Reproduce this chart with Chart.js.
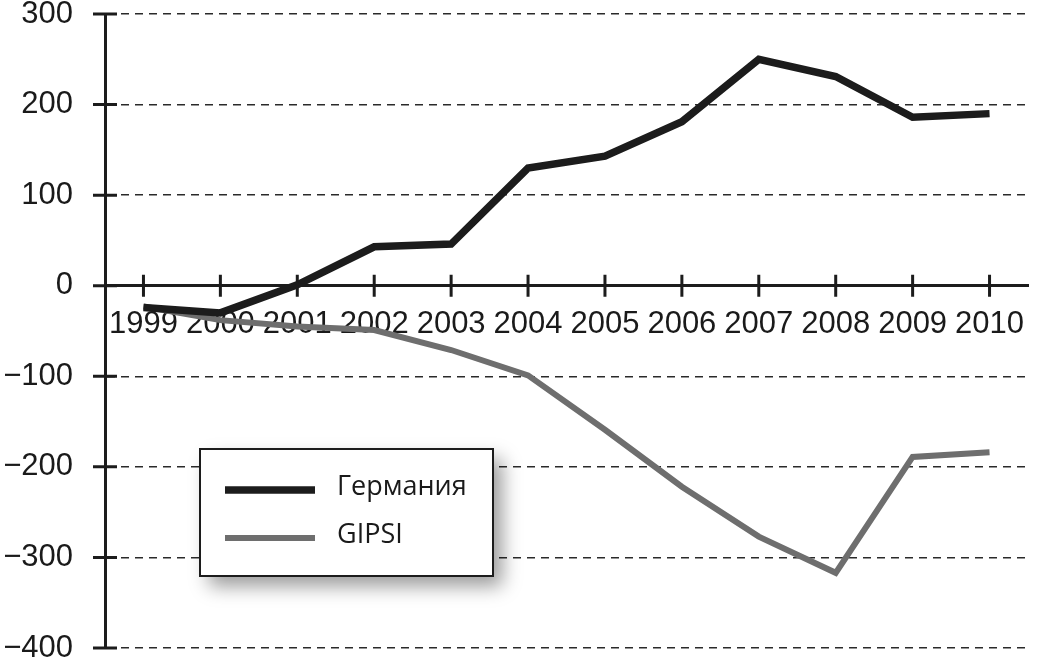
<!DOCTYPE html>
<html>
<head>
<meta charset="utf-8">
<script src="https://cdn.jsdelivr.net/npm/chart.js@4/dist/chart.umd.min.js"></script>
<style>
  html, body { margin: 0; padding: 0; background: #fff; }
  #wrap { width: 1048px; height: 664px; }
</style>
</head>
<body>
<div id="wrap"><canvas id="chart" width="1048" height="664"></canvas></div>
<script>
// data
const years = ["1999", "2000", "2001", "2002", "2003", "2004", "2005", "2006", "2007", "2008", "2009", "2010"];
const germany = [-24, -30, 1, 43, 46, 130, 143, 181, 250, 231, 186, 190];
const gipsi = [-23, -38, -45, -49, -71, -99, -159, -222, -277, -317, -189, -184];
const seriesNames = ["Германия", "GIPSI"];
const yTicks = [300, 200, 100, 0, -100, -200, -300, -400];

const ink = "#1c1c1c";
const grey = "#6e6e6e";

// ticks that cross the axis lines on both sides
const crossTicks = {
  id: "crossTicks",
  afterDraw(chart) {
    const { ctx, scales: { x, y } } = chart;
    const y0 = y.getPixelForValue(0);
    ctx.save();
    ctx.strokeStyle = ink;
    ctx.lineWidth = 3;
    ctx.beginPath();
    yTicks.forEach(v => {
      const py = y.getPixelForValue(v);
      ctx.moveTo(x.left - 12, py);
      ctx.lineTo(x.left + 12, py);
    });
    years.forEach((yr, i) => {
      const px = x.getPixelForValue(i);
      ctx.moveTo(px, y0 - 11);
      ctx.lineTo(px, y0 + 11);
    });
    ctx.stroke();
    ctx.restore();
  }
};

// legend box drawn inside the plot, like the scanned figure
const boxLegend = {
  id: "boxLegend",
  afterDraw(chart) {
    const ctx = chart.ctx;
    const bx = 200, by = 449, bw = 293, bh = 127;
    ctx.save();
    ctx.shadowColor = "rgba(0,0,0,0.4)";
    ctx.shadowBlur = 18;
    ctx.shadowOffsetX = 9;
    ctx.shadowOffsetY = 10;
    ctx.fillStyle = "#fff";
    ctx.fillRect(bx, by, bw, bh);
    ctx.restore();

    ctx.save();
    ctx.strokeStyle = ink;
    ctx.lineWidth = 2;
    ctx.strokeRect(bx, by, bw, bh);

    const rows = [490, 538];
    chart.data.datasets.forEach((ds, i) => {
      ctx.strokeStyle = ds.borderColor;
      ctx.lineWidth = ds.borderWidth;
      ctx.beginPath();
      ctx.moveTo(bx + 25, rows[i]);
      ctx.lineTo(bx + 115, rows[i]);
      ctx.stroke();
      ctx.fillStyle = "#1a1a1a";
      ctx.font = "27px 'Open Sans'";
      ctx.textBaseline = "middle";
      ctx.fillText(ds.label, bx + 137, rows[i] - 3);
    });
    ctx.restore();
  }
};

new Chart(document.getElementById("chart"), {
  type: "line",
  data: {
    labels: years,
    datasets: [
      {
        label: seriesNames[0],
        data: germany,
        borderColor: ink,
        borderWidth: 7.5,
        order: 0
      },
      {
        label: seriesNames[1],
        data: gipsi,
        borderColor: grey,
        borderWidth: 6,
        order: 1
      }
    ]
  },
  options: {
    responsive: false,
    animation: false,
    layout: { padding: { top: 14, bottom: 16, left: 0, right: 20 } },
    elements: { point: { radius: 0 }, line: { tension: 0 } },
    plugins: { legend: { display: false }, tooltip: { enabled: false } },
    scales: {
      x: {
        position: { y: 0 },
        offset: true,
        grid: { display: false, drawTicks: false },
        border: { display: true, color: ink, width: 3 },
        ticks: {
          color: "#1a1a1a",
          padding: 23,
          maxRotation: 0,
          autoSkip: false,
          font: { family: "'Liberation Sans', Arial, sans-serif", size: 31, lineHeight: 1 }
        }
      },
      y: {
        min: -400,
        max: 300,
        afterFit(scale) {
          scale.width = 105;
          // tick padding would otherwise push the plot in from top and bottom
          scale.paddingTop = 0;
          scale.paddingBottom = 0;
        },
        grid: { color: "#2a2a2a", lineWidth: 1.5, drawTicks: false },
        border: { display: true, color: ink, width: 3, dash: [8, 6] },
        ticks: {
          stepSize: 100,
          color: "#1a1a1a",
          padding: 32,
          font: { family: "'Liberation Sans', Arial, sans-serif", size: 31, lineHeight: 1 },
          callback: v => (v < 0 ? "\u2212" + Math.abs(v) : String(v))
        }
      }
    }
  },
  plugins: [crossTicks, boxLegend]
});
</script>
</body>
</html>
